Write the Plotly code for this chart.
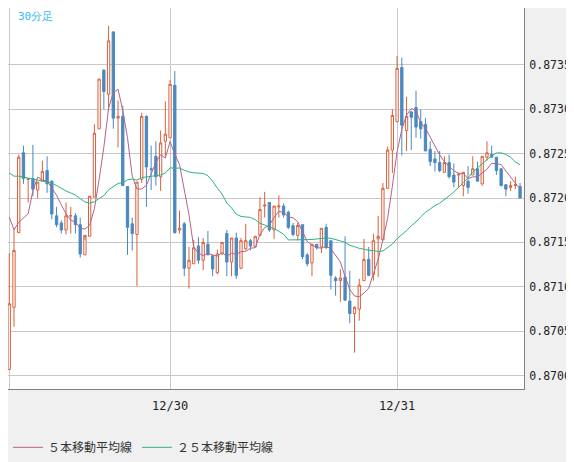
import pandas as pd
import plotly.graph_objects as go

# 30-minute candles, prices in units of 0.00001
opens = [87007, 87077, 87161, 87251, 87221, 87222, 87209, 87219, 87231, 87219,
         87180, 87172, 87164, 87180, 87180, 87170, 87136, 87157, 87201, 87278,
         87344, 87317, 87387, 87290, 87292, 87213, 87171, 87159, 87221, 87292,
         87233, 87247, 87224, 87264, 87268, 87327, 87164, 87171, 87121, 87126,
         87146, 87130, 87148, 87135, 87116, 87137, 87160, 87128, 87155, 87121,
         87143, 87152, 87145, 87158, 87191, 87195, 87164, 87190, 87191, 87184,
         87169, 87158, 87170, 87136, 87127, 87148, 87145, 87167, 87152, 87110,
         87107, 87111, 87084, 87070, 87075, 87107, 87131, 87114, 87154, 87153,
         87211, 87254, 87286, 87347, 87276, 87297, 87302, 87286, 87283, 87255,
         87244, 87240, 87229, 87240, 87226, 87226, 87214, 87219, 87226, 87233,
         87216, 87246, 87249, 87246, 87233, 87215, 87212, 87214, 87213]
highs = [87138, 87166, 87249, 87259, 87222, 87260, 87218, 87242, 87247, 87220,
         87190, 87175, 87195, 87190, 87183, 87178, 87153, 87202, 87283, 87334,
         87345, 87394, 87388, 87310, 87304, 87213, 87178, 87218, 87296, 87293,
         87259, 87264, 87276, 87309, 87333, 87343, 87186, 87173, 87145, 87153,
         87156, 87155, 87163, 87136, 87142, 87150, 87164, 87155, 87161, 87155,
         87171, 87154, 87157, 87201, 87207, 87195, 87191, 87203, 87194, 87186,
         87172, 87172, 87170, 87138, 87148, 87148, 87166, 87171, 87152, 87112,
         87120, 87157, 87118, 87078, 87109, 87154, 87145, 87160, 87180, 87217,
         87258, 87300, 87360, 87358, 87314, 87298, 87321, 87300, 87290, 87264,
         87253, 87253, 87247, 87249, 87239, 87226, 87229, 87236, 87247, 87241,
         87247, 87264, 87259, 87246, 87233, 87215, 87219, 87224, 87217]
lows = [87007, 87055, 87161, 87216, 87195, 87202, 87200, 87219, 87206, 87176,
        87167, 87160, 87159, 87160, 87160, 87133, 87136, 87157, 87201, 87278,
        87300, 87298, 87278, 87257, 87214, 87136, 87141, 87101, 87217, 87190,
        87209, 87214, 87208, 87247, 87268, 87160, 87160, 87112, 87098, 87126,
        87126, 87119, 87136, 87112, 87114, 87137, 87112, 87112, 87109, 87120,
        87141, 87141, 87145, 87158, 87178, 87162, 87154, 87178, 87178, 87165,
        87157, 87152, 87131, 87123, 87112, 87142, 87138, 87143, 87097, 87090,
        87083, 87086, 87059, 87026, 87062, 87107, 87112, 87107, 87111, 87153,
        87211, 87228, 87286, 87248, 87253, 87254, 87268, 87267, 87253, 87236,
        87230, 87229, 87229, 87222, 87212, 87212, 87202, 87205, 87226, 87219,
        87214, 87242, 87246, 87226, 87213, 87202, 87208, 87210, 87200]
closes = [87081, 87141, 87246, 87222, 87222, 87210, 87218, 87230, 87216, 87182,
          87170, 87164, 87180, 87180, 87170, 87137, 87158, 87202, 87273, 87334,
          87320, 87377, 87290, 87292, 87214, 87167, 87160, 87218, 87292, 87235,
          87232, 87224, 87262, 87272, 87328, 87161, 87166, 87121, 87130, 87144,
          87130, 87150, 87136, 87120, 87137, 87150, 87128, 87155, 87113, 87152,
          87152, 87146, 87157, 87187, 87192, 87164, 87191, 87191, 87181, 87167,
          87159, 87169, 87134, 87126, 87148, 87144, 87166, 87144, 87113, 87107,
          87110, 87085, 87070, 87077, 87102, 87131, 87113, 87152, 87157, 87211,
          87254, 87293, 87346, 87282, 87292, 87291, 87280, 87278, 87253, 87241,
          87240, 87231, 87240, 87224, 87218, 87227, 87229, 87212, 87233, 87219,
          87247, 87251, 87246, 87231, 87214, 87210, 87214, 87215, 87200]
# closes before the visible window, needed for the moving averages
prev_closes = [87236, 87244, 87250, 87241, 87233, 87247, 87256, 87238, 87229, 87242,
               87251, 87246, 87235, 87228, 87240, 87249, 87237, 87232, 87245, 87238,
               87212, 87205, 87198, 87197]

y_ticks = [0.8700, 0.8705, 0.8710, 0.8715, 0.8720, 0.8725, 0.8730, 0.8735]
day_labels = ["", "12/30", "12/31"]

t = pd.date_range("2014-12-29 07:00", periods=len(opens), freq="30min")
sc = 100000.0
o = [v / sc for v in opens]
h = [v / sc for v in highs]
l = [v / sc for v in lows]
c = [v / sc for v in closes]

all_c = pd.Series([v / sc for v in prev_closes] + c)
n0 = len(prev_closes)
ma5 = all_c.rolling(5).mean().iloc[n0:].values
ma25 = all_c.rolling(25).mean().iloc[n0:].values

fig = go.Figure()
fig.add_trace(go.Candlestick(
    x=t, open=o, high=h, low=l, close=c,
    increasing=dict(line=dict(color="#d9603b", width=1), fillcolor="white"),
    decreasing=dict(line=dict(color="#4a89c0", width=1), fillcolor="#4a89c0"),
    whiskerwidth=0, showlegend=False,
))
fig.add_trace(go.Scatter(x=t, y=ma5, mode="lines", name="５本移動平均線",
                         line=dict(color="#b5628a", width=1)))
fig.add_trace(go.Scatter(x=t, y=ma25, mode="lines", name="２５本移動平均線",
                         line=dict(color="#2bb57c", width=1)))

fig.add_annotation(text="30分足", xref="paper", yref="paper", x=0.015, y=1.0,
                   xanchor="left", yanchor="top", showarrow=False,
                   font=dict(color="#33bbee", size=11))

# the page adds an 8px body margin, so the figure is slightly smaller
fig.update_layout(
    width=566, height=454,
    margin=dict(l=0, r=50, t=0, b=50),
    paper_bgcolor="#f0f0f0", plot_bgcolor="white",
    font=dict(family="DejaVu Sans Mono", size=12, color="#222"),
    legend=dict(orientation="h", x=0.0, y=-0.115, xanchor="left", yanchor="top",
                font=dict(family="Noto Sans CJK JP", size=12, color="#333"),
                bgcolor="rgba(0,0,0,0)"),
    hovermode=False,
)
fig.update_xaxes(
    range=[t[0] - pd.Timedelta(minutes=8), t[-1] + pd.Timedelta(minutes=25)],
    rangeslider_visible=False,
    tickvals=[t[0], pd.Timestamp("2014-12-30"), pd.Timestamp("2014-12-31")],
    ticktext=day_labels, ticks="", ticklabelstandoff=6,
    showgrid=True, gridcolor="#c8c8c8",
    showline=True, linecolor="#808080", linewidth=1, mirror=True, zeroline=False,
)
fig.update_yaxes(
    range=[0.86985, 0.87414], side="right",
    tickvals=y_ticks, ticktext=["%.4f" % v for v in y_ticks], ticks="",
    ticklabelstandoff=2, tickfont=dict(size=11.5),
    showgrid=True, gridcolor="#c8c8c8",
    showline=True, linecolor="#808080", linewidth=1, mirror=True, zeroline=False,
)

fig.write_html("out.html")
